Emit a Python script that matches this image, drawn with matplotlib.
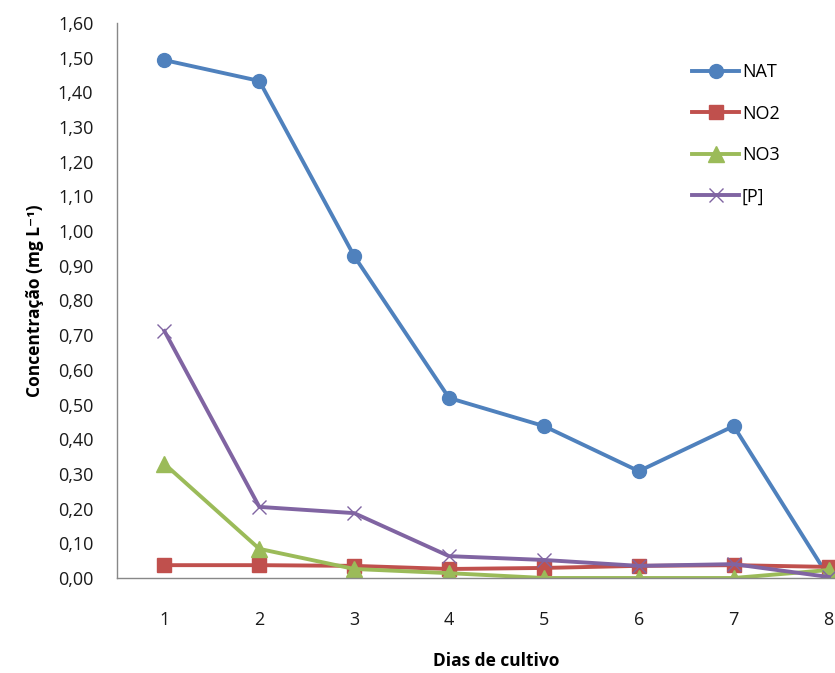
import matplotlib

matplotlib.use("Agg")
import matplotlib.pyplot as plt
from matplotlib.ticker import FuncFormatter

dias = [1, 2, 3, 4, 5, 6, 7, 8]
nat = [1.493, 1.433, 0.928, 0.519, 0.438, 0.308, 0.438, 0.003]
no2 = [0.037, 0.037, 0.035, 0.026, 0.029, 0.035, 0.037, 0.032]
no3 = [0.329, 0.084, 0.026, 0.014, 0.0, 0.0, 0.0, 0.023]
fosforo = [0.712, 0.205, 0.187, 0.063, 0.052, 0.035, 0.040, 0.003]

plt.rcParams["font.family"] = ["Open Sans", "DejaVu Sans"]

W, H = 835, 673
fig = plt.figure(figsize=(W / 100, H / 100), dpi=100)
# axes run past the right edge, as in the cropped original
left, right, top, bottom = 117, 876, 23, 578
ax = fig.add_axes([left / W, 1 - bottom / H, (right - left) / W, (bottom - top) / H])

lw = 2.8
ax.plot(dias, nat, color="#4F81BD", lw=lw, marker="o", ms=10, label="NAT")
ax.plot(dias, no2, color="#C0504D", lw=lw, marker="s", ms=10, label="NO2")
ax.plot(dias, no3, color="#9BBB59", lw=lw, marker="^", ms=11, label="NO3")
ax.plot(dias, fosforo, color="#8064A2", lw=lw, marker="x", ms=10, mew=1.0, label="[P]")

ax.set_xlim(0.5, 8.5)
ax.set_ylim(0, 1.6)
ax.set_xticks(dias)
ax.set_yticks([i / 10 for i in range(17)])
ax.yaxis.set_major_formatter(FuncFormatter(lambda v, _: f"{v:.2f}".replace(".", ",")))
ax.tick_params(length=0, labelsize=13, colors="#1a1a1a")
ax.tick_params(axis="y", pad=17)
ax.tick_params(axis="x", pad=24)

for s in ("top", "right"):
    ax.spines[s].set_visible(False)
for s in ("left", "bottom"):
    ax.spines[s].set_color("#888888")
    ax.spines[s].set_linewidth(1.0)

ax.set_ylabel("Concentração (mg L⁻¹)", fontsize=12.5, fontweight="bold", labelpad=10)
ax.set_xlabel("Dias de cultivo", fontsize=12.5, fontweight="bold", labelpad=16)

fig.legend(loc="upper left", bbox_to_anchor=(676 / W, 1 - 47 / H), frameon=False,
           fontsize=13, handlelength=2.6, handletextpad=0.15, labelspacing=1.3)

fig.savefig("out.png", dpi=100)
